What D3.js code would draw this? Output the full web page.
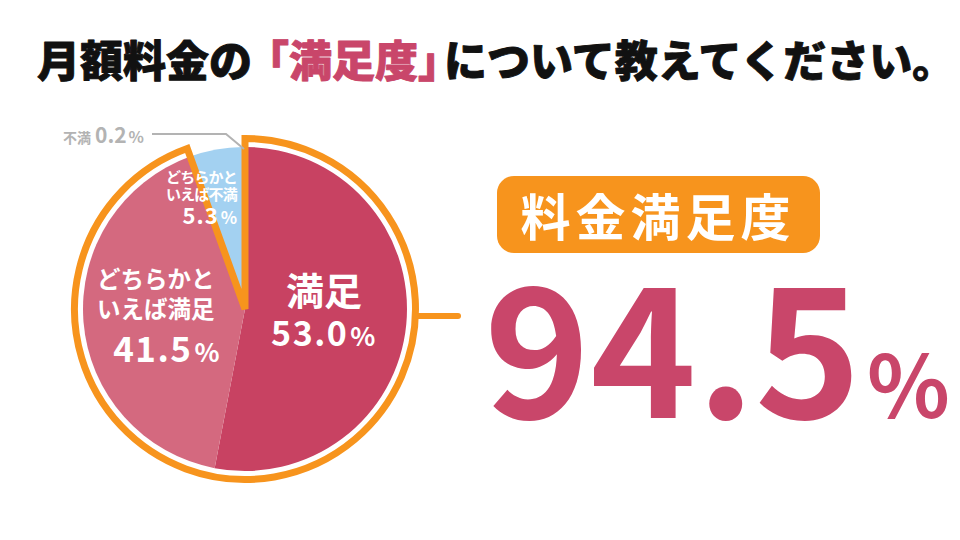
<!DOCTYPE html>
<html>
<head>
<meta charset="utf-8">
<script src="https://cdn.jsdelivr.net/npm/d3@7"></script>
<style>
  body { margin: 0; background: #fff; }
  svg { display: block; font-family: "Noto Sans CJK JP", "Noto Sans", sans-serif; }
</style>
</head>
<body>
<svg id="chart"></svg>
<script>
const WIDTH = 960;
const HEIGHT = 540;

// data
const categories = ["満足", "どちらかといえば満足", "どちらかといえば不満", "不満"];
const values = [53.0, 41.5, 5.3, 0.2];
const satisfiedCats = ["満足", "どちらかといえば満足"];
const titleParts = ["月額料金の", "「満足度」", "について教えてください。"];
const badgeText = "料金満足度";

const colors = ["#c84262", "#d4697f", "#a3d1f1", "#c8c8c8"];
const ACCENT = "#c9466a";
const ORANGE = "#f7941d";
const GREY = "#b3b3b3";

const CX = 245;
const CY = 309;
const R = 162;

const svg = d3.select("#chart").attr("width", WIDTH).attr("height", HEIGHT);

// title
const title = svg.append("text")
  .attr("x", 37)
  .attr("y", 77)
  .attr("font-size", 43)
  .attr("font-weight", 900)
  .attr("stroke-width", 0.9)
  .attr("stroke-linejoin", "round");
title.selectAll("tspan")
  .data(titleParts)
  .join("tspan")
  .attr("fill", (_, i) => (i === 1 ? ACCENT : "#111"))
  .attr("stroke", (_, i) => (i === 1 ? ACCENT : "#111"))
  .attr("dx", (_, i) => (i === 1 ? -6 : i === 2 ? -17 : 0))
  .text((d) => d);

// pie
const pie = d3.pie().sort(null).value((d) => d);
const arcs = pie(values);
const arc = d3.arc().innerRadius(0).outerRadius(R);

const g = svg.append("g").attr("transform", `translate(${CX}, ${CY})`);

g.append("g")
  .attr("class", "slices")
  .selectAll("path")
  .data(arcs)
  .join("path")
  .attr("d", arc)
  .attr("fill", (_, i) => colors[i]);

// outline round the satisfied slices
const satisfiedArcs = arcs.filter((_, i) => satisfiedCats.includes(categories[i]));
const outline = d3.arc().innerRadius(0).outerRadius(R + 8.5);
g.append("path")
  .attr("d", outline({ startAngle: 0, endAngle: d3.max(satisfiedArcs, (d) => d.endAngle) }))
  .attr("fill", "none")
  .attr("stroke", ORANGE)
  .attr("stroke-width", 7)
  .attr("stroke-linejoin", "miter");

// connector to the total
g.append("line")
  .attr("x1", R + 11)
  .attr("x2", R + 51)
  .attr("y1", 7)
  .attr("y2", 7)
  .attr("stroke", ORANGE)
  .attr("stroke-width", 6)
  .attr("stroke-linecap", "round");

// leader for the tiny slice
const tiny = arcs[3];
const tinyMid = (tiny.startAngle + tiny.endAngle) / 2;
const tinyEnd = [Math.sin(tinyMid) * (R - 2), -Math.cos(tinyMid) * (R - 2)];
g.append("polyline")
  .attr("points", [[-93, -175], [-19, -175], tinyEnd].map((p) => p.join(",")).join(" "))
  .attr("fill", "none")
  .attr("stroke", GREY)
  .attr("stroke-width", 2);

// labels
function pctLabel(sel, value, numSize, pctSize) {
  sel.append("tspan").attr("font-size", numSize).text(value.toFixed(1));
  sel.append("tspan").attr("font-size", pctSize).attr("dx", 2).text("%");
}

const labels = svg.append("g").attr("fill", "#fff").attr("font-weight", 700);

// 満足
labels.append("text")
  .attr("x", 324).attr("y", 305)
  .attr("text-anchor", "middle")
  .attr("font-size", 38)
  .text(categories[0]);
labels.append("text")
  .attr("x", 324).attr("y", 346)
  .attr("text-anchor", "middle")
  .attr("letter-spacing", 1.5)
  .call(pctLabel, values[0], 34, 26);

// どちらかといえば満足
[categories[1].slice(0, 5), categories[1].slice(5)].forEach((t, i) => {
  labels.append("text")
    .attr("x", 97).attr("y", 288 + i * 30)
    .attr("font-size", 23.5)
    .text(t);
});
labels.append("text")
  .attr("x", 221).attr("y", 362)
  .attr("text-anchor", "end")
  .attr("letter-spacing", 1.5)
  .call(pctLabel, values[1], 35, 26);

// どちらかといえば不満
[categories[2].slice(0, 5), categories[2].slice(5)].forEach((t, i) => {
  labels.append("text")
    .attr("x", 166).attr("y", 183 + i * 17)
    .attr("font-size", 15)
    .attr("letter-spacing", -0.8)
    .text(t);
});
labels.append("text")
  .attr("x", 238).attr("y", 224)
  .attr("text-anchor", "end")
  .attr("letter-spacing", 1)
  .call(pctLabel, values[2], 22, 17);

// 不満
const outLabel = svg.append("text")
  .attr("x", 63).attr("y", 143)
  .attr("fill", GREY)
  .attr("font-weight", 700);
outLabel.append("tspan").attr("font-size", 14).text(categories[3]);
outLabel.append("tspan").attr("font-size", 21).attr("dx", 4).text(values[3].toFixed(1));
outLabel.append("tspan").attr("font-size", 16).attr("dx", 2).text("%");

// badge
const badge = svg.append("g").attr("transform", "translate(497, 176)");
badge.append("rect")
  .attr("width", 323)
  .attr("height", 77)
  .attr("rx", 17)
  .attr("fill", ORANGE);
badge.append("text")
  .attr("x", 161)
  .attr("y", 60)
  .attr("text-anchor", "middle")
  .attr("fill", "#fff")
  .attr("font-size", 50)
  .attr("font-weight", 700)
  .attr("letter-spacing", 5)
  .text(badgeText);

// total
const total = d3.sum(values.filter((_, i) => satisfiedCats.includes(categories[i])));
const big = svg.append("text")
  .attr("x", 484)
  .attr("y", 418)
  .attr("fill", ACCENT)
  .attr("font-weight", 700);
big.append("tspan").attr("font-size", 180).text(d3.format(".1f")(total));
big.append("tspan").attr("font-size", 86).attr("dx", 6).text("%");
</script>
</body>
</html>
